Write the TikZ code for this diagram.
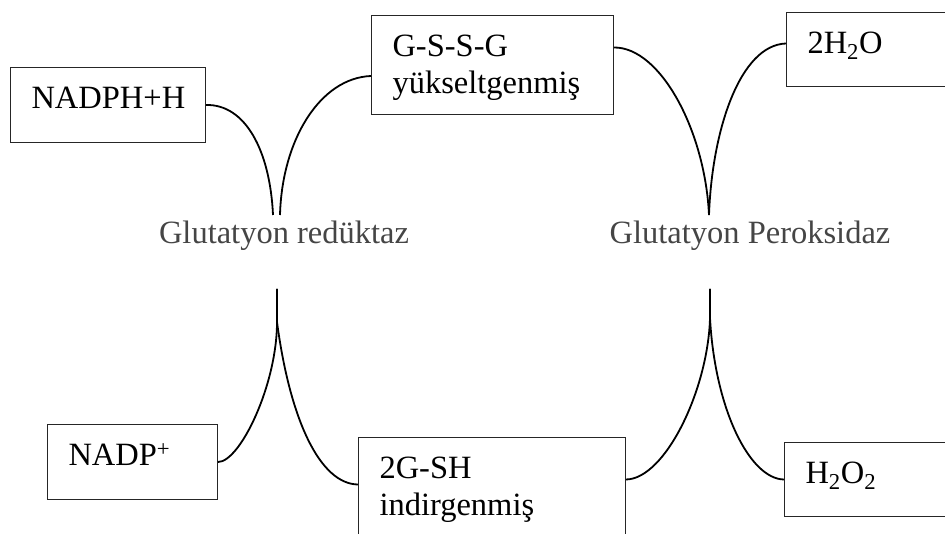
\documentclass[tikz,border=0pt]{standalone}
\usepackage{fontspec}
\setmainfont{Liberation Serif}
\usetikzlibrary{calc}
\definecolor{boxgray}{rgb}{0.15,0.15,0.15}
\definecolor{labgray}{rgb}{0.27,0.27,0.27}
\newcommand{\boxtxt}[3]{\parbox[c][#2][t]{#1}{\raggedright\leftskip=21pt\rule{0pt}{41pt}#3}}
\begin{document}
\begin{tikzpicture}[x=1pt,y=-1pt,
  box/.style={draw=boxgray, line width=1pt, inner sep=0pt, anchor=north west, font=\fontsize{32.5}{37}\selectfont},
  enz/.style={text=labgray, font=\fontsize{32.5}{37}\selectfont, anchor=base, inner sep=0pt},
  link/.style={line width=1.8pt}]
\useasboundingbox (0,0) rectangle (945,534);
\clip (0,0) rectangle (945,534);
% boxes
\node[box] (nadph) at (10,67) {\boxtxt{195pt}{75pt}{NADPH+H}};
\node[box] (gssg) at (371,15) {\boxtxt{242pt}{99pt}{G-S-S-G\\yükseltgenmiş}};
\node[box] (hho) at (786,12) {\boxtxt{220pt}{74pt}{2H\textsubscript{2}O}};
\node[box] (nadp) at (47,424) {\boxtxt{170pt}{75pt}{NADP\textsuperscript{+}}};
\node[box] (gsh) at (358,437) {\boxtxt{267pt}{120pt}{2G-SH\\indirgenmiş}};
\node[box] (hhoo) at (784,442) {\boxtxt{220pt}{74pt}{H\textsubscript{2}O\textsubscript{2}}};
% enzyme labels
\node[enz] (gr) at (284,243.5) {Glutatyon redüktaz};
\node[enz] (gp) at (750,243.5) {Glutatyon Peroksidaz};
% junction points
\coordinate (grL) at (273,215);
\coordinate (grR) at (280,215);
\coordinate (gpT) at (709,215);
\coordinate (grB) at (277,289);
\coordinate (grS) at (277,322);
\coordinate (gpB) at (710,289);
\coordinate (gpS) at (710,318);
% top connectors
\draw[link] (nadph.east) .. controls (245,104) and (270,150) .. (grL);
\draw[link] ($(gssg.west)+(0,11)$) .. controls (320,78) and (282,140) .. (grR);
\draw[link] ($(gssg.east)+(0,-17.5)$) .. controls (660,47) and (705,130) .. (gpT);
\draw[link] ($(hho.west)+(0,-6)$) .. controls (740,45) and (712,130) .. (gpT);
% bottom connectors
\draw[link] (grB) -- (grS) .. controls (277,385) and (240,462) .. (nadp.east);
\draw[link] (grB) -- (grS) .. controls (290,420) and (320,484) .. ($(gsh.west)+(0,-13)$);
\draw[link] (gpB) -- (gpS) .. controls (708,390) and (665,479) .. ($(gsh.east)+(0,-18)$);
\draw[link] (gpB) -- (gpS) .. controls (715,410) and (750,479) .. (hhoo.west);
\end{tikzpicture}
\end{document}
